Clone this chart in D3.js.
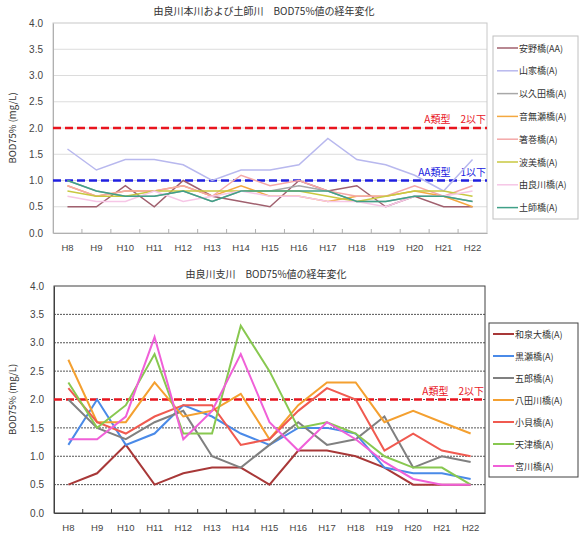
<!DOCTYPE html>
<html><head><meta charset="utf-8">
<script src="https://cdn.jsdelivr.net/npm/d3@7"></script>
<style>
html,body{margin:0;padding:0;background:#fff;}
svg{display:block;font-family:"Noto Sans CJK JP","Noto Sans",sans-serif;}
</style></head>
<body><svg id="c" width="581" height="533"></svg>
<script>
const years = ["H8","H9","H10","H11","H12","H13","H14","H15","H16","H17","H18","H19","H20","H21","H22"];
const yTicks = [0,0.5,1.0,1.5,2.0,2.5,3.0,3.5,4.0];

// Top chart: 由良川本川および土師川
const topTitle = "由良川本川および土師川　BOD75%値の経年変化";
const topNames = ["安野橋(AA)","山家橋(A)","以久田橋(A)","音無瀬橋(A)","箸巻橋(A)","波美橋(A)","由良川橋(A)","土師橋(A)"];
const topColors = ["#a0606e","#b8b8ee","#a8a8a8","#f4a840","#f4a8a8","#c8c840","#f6c6e6","#40a088"];
const topAno    = [0.5,0.5,0.9,0.5,1.0,0.7,0.6,0.5,1.0,0.8,0.9,0.5,0.7,0.5,0.5];
const topYamaga = [1.6,1.2,1.4,1.4,1.3,1.0,1.2,1.2,1.3,1.8,1.4,1.3,1.1,0.8,1.4];
const topIkuta  = [1.0,0.8,0.7,0.7,0.8,0.6,0.8,0.8,0.9,0.8,0.6,0.6,0.7,0.7,0.6];
const topOtonashi=[0.9,0.7,0.8,0.8,0.9,0.7,0.9,0.7,0.7,0.6,0.7,0.7,0.8,0.7,0.5];
const topHashimaki=[0.9,0.7,0.8,0.8,0.9,0.7,1.1,0.9,1.0,0.8,0.7,0.7,0.9,0.7,0.9];
const topHami   = [0.8,0.7,0.7,0.8,0.8,0.8,0.8,0.8,0.8,0.7,0.6,0.7,0.8,0.8,0.7];
const topYura   = [0.7,0.6,0.6,0.8,0.6,0.7,0.8,0.7,0.7,0.6,0.6,0.5,0.7,0.7,0.8];
const topHaji   = [1.0,0.8,0.7,0.7,0.8,0.6,0.8,0.8,0.8,0.8,0.6,0.6,0.7,0.7,0.6];
const topSeries = [topAno,topYamaga,topIkuta,topOtonashi,topHashimaki,topHami,topYura,topHaji];

// Bottom chart: 由良川支川
const botTitle = "由良川支川　BOD75%値の経年変化";
const botNames = ["和泉大橋(A)","黒瀬橋(A)","五郎橋(A)","八田川橋(A)","小貝橋(A)","天津橋(A)","宮川橋(A)"];
const botColors = ["#a83838","#4a8ae8","#808080","#f4a030","#f05a50","#88c850","#f060d8"];
const botIzumi  = [0.5,0.7,1.2,0.5,0.7,0.8,0.8,0.5,1.1,1.1,1.0,0.8,0.5,0.5,0.5];
const botKurose = [1.2,2.0,1.2,1.4,1.9,1.7,1.4,1.2,1.5,1.5,1.4,0.8,0.7,0.7,0.6];
const botGoro   = [2.0,1.5,1.3,1.6,1.8,1.0,0.8,1.2,1.6,1.2,1.3,1.7,0.8,1.0,0.9];
const botHatta  = [2.7,1.6,1.6,2.3,1.7,1.8,2.1,1.3,1.9,2.3,2.3,1.6,1.8,1.6,1.4];
const botKogai  = [2.2,1.6,1.4,1.7,1.9,1.9,1.2,1.3,1.8,2.2,2.0,1.1,1.4,1.1,1.0];
const botAmazu  = [2.3,1.5,1.9,2.8,1.4,1.4,3.3,2.5,1.5,1.6,1.4,1.0,0.8,0.8,0.5];
const botMiyagawa=[1.3,1.3,1.7,3.1,1.3,1.8,2.8,1.6,1.1,1.6,1.3,0.9,0.6,0.5,0.5];
const botSeries = [botIzumi,botKurose,botGoro,botHatta,botKogai,botAmazu,botMiyagawa];

const refTop = [{v:2.0,label:"A類型　2以下",color:"#e8141e"},{v:1.0,label:"AA類型　1以下",color:"#2020e0"}];
const refBot = [{v:2.0,label:"A類型　2以下",color:"#e8141e"}];

const svg = d3.select("#c");

function drawChart(o){
  const g = svg.append("g");
  const x = d3.scaleBand().domain(years).range([o.left,o.right]);
  const y = d3.scaleLinear().domain([0,4]).range([o.bottom,o.top]);

  g.append("g").selectAll("line").data(yTicks.filter(d=>d>0&&d<4)).join("line")
    .attr("x1",o.left).attr("x2",o.right).attr("y1",d=>y(d)).attr("y2",d=>y(d))
    .attr("stroke",o.gridColor).attr("stroke-width",1)
    .attr("stroke-dasharray",o.gridDash||null);

  g.append("rect").attr("x",o.left).attr("y",o.top).attr("width",o.right-o.left).attr("height",o.bottom-o.top)
    .attr("fill","none").attr("stroke",o.frameColor).attr("stroke-width",1);

  const ya = g.append("g").attr("transform",`translate(${o.left},0)`)
    .call(d3.axisLeft(y).tickValues(yTicks).tickFormat(d3.format(".1f")).tickSize(0).tickPadding(10));
  ya.select(".domain").attr("stroke",o.axisColor);
  ya.selectAll("text").attr("font-size",10).attr("fill","#444").attr("font-family","Liberation Sans, Arial, sans-serif");

  const xa = g.append("g").attr("transform",`translate(0,${o.bottom})`)
    .call(d3.axisBottom(x).tickSize(0).tickPadding(11));
  xa.select(".domain").attr("stroke",o.axisColor);
  xa.selectAll("text").attr("font-size",9.5).attr("fill","#444").attr("font-family","Liberation Sans, Arial, sans-serif");
  g.append("g").selectAll("line").data(years.slice(1)).join("line")
    .attr("x1",d=>x(d)).attr("x2",d=>x(d)).attr("y1",o.bottom).attr("y2",o.bottom-4)
    .attr("stroke",o.axisColor);

  o.refs.forEach(r=>{
    g.append("line").attr("x1",o.left).attr("x2",o.right).attr("y1",y(r.v)).attr("y2",y(r.v))
      .attr("stroke",r.color).attr("stroke-width",2.5).attr("stroke-dasharray","8,4");
    g.append("text").attr("x",o.right-1).attr("y",y(r.v)-5).attr("text-anchor","end")
      .attr("font-size",10).attr("fill",r.color).text(r.label);
  });

  const line = d3.line().x((d,i)=>x(years[i])+x.bandwidth()/2).y(d=>y(d));
  o.series.forEach((s,i)=>{
    g.append("path").attr("d",line(s)).attr("fill","none").attr("stroke",o.colors[i])
      .attr("stroke-width",o.lineWidth).attr("stroke-linejoin","miter");
  });

  g.append("text").attr("x",o.titleX).attr("y",o.titleY).attr("text-anchor","middle")
    .attr("font-size",10).attr("fill","#333").text(o.title);

  g.append("text").attr("transform",`translate(${o.yTitleX},${(o.top+o.bottom)/2}) rotate(-90)`)
    .attr("text-anchor","middle").attr("font-size",9.5).attr("fill","#333").text("BOD75% (mg/L)");

  const lg = g.append("g");
  lg.append("rect").attr("x",o.leg.x).attr("y",o.leg.y).attr("width",o.leg.w).attr("height",o.leg.h)
    .attr("fill","#fff").attr("stroke",o.leg.stroke).attr("stroke-width",1);
  o.names.forEach((n,i)=>{
    const yy = o.leg.y0 + i*o.leg.step;
    lg.append("line").attr("x1",o.leg.x+4).attr("x2",o.leg.x+25).attr("y1",yy).attr("y2",yy)
      .attr("stroke",o.colors[i]).attr("stroke-width",o.lineWidth);
    lg.append("text").attr("x",o.leg.x+26).attr("y",yy+3.5).attr("font-size",9).attr("fill","#333").text(n);
  });
}

drawChart({
  left:53,right:487,top:23,bottom:233,
  gridColor:"#dcdcdc",gridDash:null,frameColor:"#c8c8c8",axisColor:"#b0b0b0",
  refs:refTop,series:topSeries,colors:topColors,names:topNames,lineWidth:1.5,
  title:topTitle,titleX:264,titleY:15,yTitleX:16,
  leg:{x:493,y:36,w:85,h:183,y0:48,step:22.8,stroke:"#c0c0c0"}
});
drawChart({
  left:54,right:485,top:286,bottom:513,
  gridColor:"#555",gridDash:"2,1",frameColor:"#404040",axisColor:"#404040",
  refs:refBot,series:botSeries,colors:botColors,names:botNames,lineWidth:2,
  title:botTitle,titleX:266,titleY:278,yTitleX:16,
  leg:{x:489,y:323,w:89,h:154,y0:334,step:22,stroke:"#404040"}
});
</script></body></html>
